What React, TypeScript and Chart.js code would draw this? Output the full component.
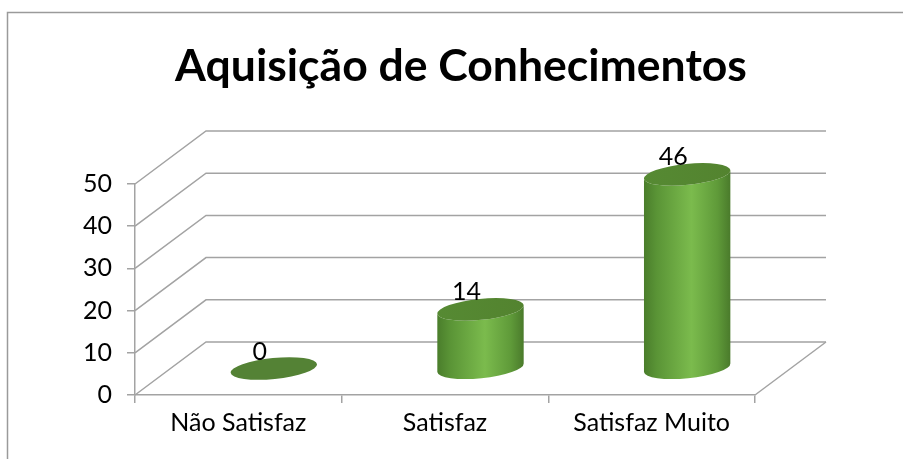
import React, { useEffect, useRef } from "react";
import { Chart, registerables } from "chart.js";

Chart.register(...registerables);

const categories = ["Não Satisfaz", "Satisfaz", "Satisfaz Muito"];
const values = [0, 14, 46];
const yTickValues = [0, 10, 20, 30, 40, 50];
const chartTitle = "Aquisição de Conhecimentos";

const DEPTH_X = 71;
const DEPTH_Y = -53;
const GRID = "#a3a3a3";
const LABEL_FONT = 25;

const framePlugin = {
  id: "frame3d",
  beforeDraw(chart: any) {
    const ctx = chart.ctx;
    ctx.save();
    ctx.strokeStyle = "#9a9a9a";
    ctx.lineWidth = 1.5;
    ctx.beginPath();
    ctx.moveTo(7.5, 459);
    ctx.lineTo(7.5, 12.5);
    ctx.lineTo(903, 12.5);
    ctx.stroke();
    ctx.restore();
  },
  beforeDatasetsDraw(chart: any) {
    const ctx = chart.ctx;
    const y = chart.scales.y;
    const area = chart.chartArea;
    ctx.save();
    ctx.strokeStyle = GRID;
    ctx.lineWidth = 1.5;
    yTickValues.forEach((v) => {
      const py = y.getPixelForValue(v);
      ctx.beginPath();
      ctx.moveTo(area.left, py);
      ctx.lineTo(area.left + DEPTH_X, py + DEPTH_Y);
      ctx.lineTo(area.right + DEPTH_X, py + DEPTH_Y);
      ctx.stroke();
    });
    const p0 = y.getPixelForValue(0);
    ctx.beginPath();
    ctx.moveTo(area.right, p0);
    ctx.lineTo(area.right + DEPTH_X, p0 + DEPTH_Y);
    ctx.stroke();
    ctx.restore();
  },
  afterDatasetsDraw(chart: any) {
    const ctx = chart.ctx;
    const meta = chart.getDatasetMeta(0);
    const rot = -0.1;
    ctx.save();
    meta.data.forEach((bar: any, i: number) => {
      const cx = bar.x + DEPTH_X / 2;
      const cyTop = bar.y + DEPTH_Y / 2;
      const cyBot = bar.base + DEPTH_Y / 2;
      const rx = bar.width / 2;
      const ry = 10.5;
      if (cyBot - cyTop > 0.5) {
        const g = ctx.createLinearGradient(cx - rx, 0, cx + rx, 0);
        g.addColorStop(0, "#4a7d2b");
        g.addColorStop(0.15, "#5a9436");
        g.addColorStop(0.55, "#7bbb4d");
        g.addColorStop(0.85, "#5f9a39");
        g.addColorStop(1, "#4a7a2b");
        ctx.fillStyle = g;
        ctx.beginPath();
        ctx.ellipse(cx, cyBot, rx, ry, rot, 0, Math.PI, false);
        ctx.lineTo(cx - rx * Math.cos(rot), cyTop - rx * Math.sin(rot));
        ctx.ellipse(cx, cyTop, rx, ry, rot, Math.PI, 0, true);
        ctx.closePath();
        ctx.fill();
        const gt = ctx.createLinearGradient(cx - rx, 0, cx + rx, 0);
        gt.addColorStop(0, "#568a33");
        gt.addColorStop(1, "#53832f");
        ctx.fillStyle = gt;
      } else {
        ctx.fillStyle = "#548235";
      }
      ctx.beginPath();
      ctx.ellipse(cx, cyTop, rx, ry, rot, 0, Math.PI * 2);
      ctx.fill();

      ctx.fillStyle = "#000";
      ctx.font = LABEL_FONT + "px Lato";
      ctx.textAlign = "center";
      ctx.textBaseline = "middle";
      ctx.fillText(String(values[i]), cx - 14, cyTop - 17);
    });
    ctx.restore();
  },
  afterDraw(chart: any) {
    const ctx = chart.ctx;
    ctx.save();
    ctx.fillStyle = "#000";
    ctx.font = "bold 44.5px Lato";
    ctx.textAlign = "center";
    ctx.textBaseline = "alphabetic";
    ctx.fillText(chartTitle, 461, 81);
    ctx.restore();
  },
};

export default function App() {
  const ref = useRef<HTMLCanvasElement | null>(null);
  useEffect(() => {
    if (!ref.current) return;
    const chart = new Chart(ref.current, {
      type: "bar",
      data: {
        labels: categories,
        datasets: [
          {
            data: values,
            backgroundColor: "rgba(0,0,0,0)",
            borderWidth: 0,
            barPercentage: 0.42,
            categoryPercentage: 1,
          },
        ],
      },
      options: {
        responsive: false,
        animation: false,
        events: [],
        layout: { padding: { left: 0, right: 148, top: 184, bottom: 0 } },
        plugins: {
          legend: { display: false },
          tooltip: { enabled: false },
          title: { display: false },
        },
        scales: {
          x: {
            grid: {
              offset: true,
              drawOnChartArea: false,
              tickLength: 8,
              color: GRID,
              lineWidth: 1.5,
            },
            border: { color: GRID, width: 1.5 },
            ticks: {
              color: "#000",
              font: { family: "Lato", size: LABEL_FONT },
              padding: 5,
            },
            afterFit: (s: any) => {
              s.height = 64;
            },
          },
          y: {
            min: 0,
            max: 50,
            afterBuildTicks: (s: any) => {
              s.ticks = yTickValues.map((v) => ({ value: v }));
            },
            grid: {
              drawOnChartArea: false,
              tickLength: 8,
              color: GRID,
              lineWidth: 1.5,
            },
            border: { color: GRID, width: 1.5 },
            ticks: {
              color: "#000",
              font: { family: "Lato", size: LABEL_FONT },
              padding: 15,
            },
            afterFit: (s: any) => {
              s.width = 135;
            },
          },
        },
      },
      plugins: [framePlugin],
    });
    return () => chart.destroy();
  }, []);
  return (
    <div style={{ position: "fixed", left: 0, top: 0, width: 903, height: 459, background: "#fff" }}>
      <canvas ref={ref} width={903} height={459} style={{ display: "block" }} />
    </div>
  );
}
